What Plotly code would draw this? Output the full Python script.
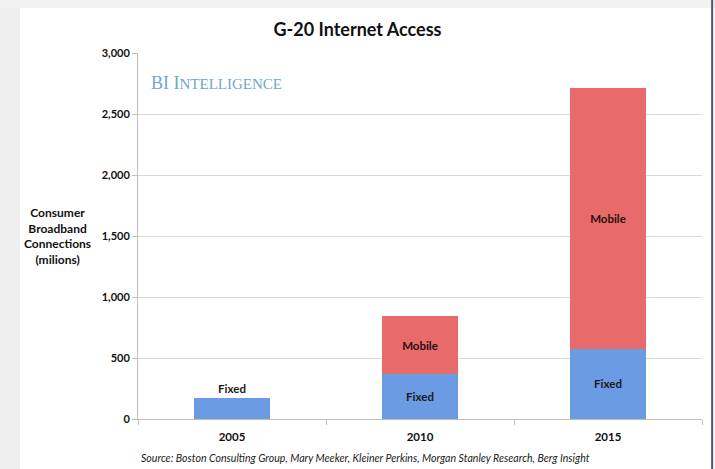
import plotly.graph_objects as go

years = ["2005", "2010", "2015"]
fixed = [172, 369, 574]
mobile = [None, 475, 2139]
fixed_text = ["Fixed", "Fixed", "Fixed"]
mobile_text = ["", "Mobile", "Mobile"]
y_ticks = [0, 500, 1000, 1500, 2000, 2500, 3000]

FONT = "Lato"
fig = go.Figure()
fig.add_trace(go.Bar(
    x=years, y=fixed, name="Fixed", width=0.4,
    marker=dict(color="#6b9be3", line=dict(width=0)),
    text=fixed_text, textposition=["outside", "inside", "inside"],
    insidetextanchor="middle", cliponaxis=False,
    textfont=dict(family=FONT, size=11.5, color="#1a1a1a", weight="bold"),
    hoverinfo="skip",
))
fig.add_trace(go.Bar(
    x=years, y=mobile, name="Mobile", width=0.4,
    marker=dict(color="#e96a6a", line=dict(width=0)),
    text=mobile_text, textposition="inside", insidetextanchor="middle",
    textfont=dict(family=FONT, size=11.5, color="#2a1010", weight="bold"),
    hoverinfo="skip",
))

fig.update_layout(
    width=715, height=469,
    margin=dict(l=138, r=13, t=53, b=50),
    barmode="stack", bargap=0.6,
    showlegend=False,
    paper_bgcolor="white", plot_bgcolor="white",
    font=dict(family=FONT, color="#111111"),
    uniformtext=dict(mode=False),
    title=dict(text="G-20 Internet Access", x=0.5, xanchor="center",
               y=0.936, yanchor="middle",
               font=dict(family=FONT, size=18, color="#111111", weight="bold")),
)
fig.update_yaxes(
    range=[0, 3000], tickvals=y_ticks, tickformat=",",
    showgrid=True, gridcolor="#d9d9d9", gridwidth=1,
    showline=True, linecolor="#bfbfbf", linewidth=1,
    ticks="outside", ticklen=5, tickcolor="#bfbfbf",
    tickfont=dict(family=FONT, size=11, color="#111111", weight="bold"),
    zeroline=False, fixedrange=True,
)
fig.update_xaxes(
    type="category",
    showline=True, linecolor="#bfbfbf", linewidth=1,
    ticks="outside", tickson="boundaries", ticklen=5, tickcolor="#bfbfbf",
    ticklabelstandoff=7,
    tickfont=dict(family=FONT, size=11.5, color="#111111", weight="bold"),
    range=[-0.5, 2.5], fixedrange=True,
)

# y axis title
fig.add_annotation(xref="paper", yref="paper", x=-0.1436, y=0.5,
                   text="Consumer<br>Broadband<br>Connections<br>(milions)",
                   showarrow=False, xanchor="center", yanchor="middle", align="center",
                   font=dict(family=FONT, size=12, color="#111111", weight="bold"))

# BI Intelligence logo
fig.add_annotation(xref="paper", yref="paper", x=0.019, y=0.918,
                   text="BI I<span style='font-size:15px'>NTELLIGENCE</span>",
                   showarrow=False, xanchor="left", yanchor="middle",
                   font=dict(family="Liberation Serif", size=18, color="#6fa6cf"))

# source note
fig.add_annotation(xref="paper", yref="paper", x=0.4025, y=-0.1066,
                   text="<i>Source: Boston Consulting Group, Mary Meeker, Kleiner Perkins, Morgan Stanley Research, Berg Insight</i>",
                   showarrow=False, xanchor="center", yanchor="middle",
                   font=dict(family=FONT, size=10.6, color="#222222"))

# frame: grey page margin left/top, dark rule on right
fig.add_shape(type="rect", xref="paper", yref="paper", x0=-0.3, x1=-0.2092, y0=-0.2, y1=1.2,
              fillcolor="#efefef", line=dict(width=0), layer="below")
fig.add_shape(type="rect", xref="paper", yref="paper", x0=-0.3, x1=1.1, y0=1.123, y1=1.2,
              fillcolor="#f2f2f2", line=dict(width=0), layer="below")
fig.add_shape(type="rect", xref="paper", yref="paper", x0=1.0162, x1=1.0198, y0=-0.2, y1=1.2,
              fillcolor="#4d5c63", line=dict(width=0), layer="below")

fig.write_html("out.html", config={"displayModeBar": False},
               post_script="document.body.style.margin='0';document.body.style.padding='0';")
